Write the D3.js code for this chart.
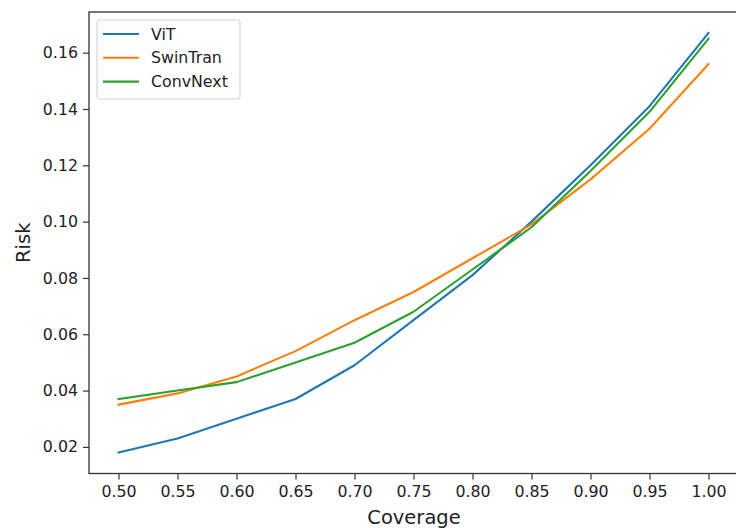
<!DOCTYPE html>
<html>
<head>
<meta charset="utf-8">
<script src="https://cdn.jsdelivr.net/npm/d3@7"></script>
<style>
  body { margin: 0; background: #fff; }
  text { font-family: "DejaVu Sans", sans-serif; fill: #222; }
</style>
</head>
<body>
<div id="chart-area"></div>
<script>
// risk vs coverage

var coverage = [0.50, 0.55, 0.60, 0.65, 0.70, 0.75, 0.80, 0.85, 0.90, 0.95, 1.00];
var vit      = [0.018, 0.023, 0.030, 0.037, 0.049, 0.065, 0.081, 0.100, 0.120, 0.141, 0.167];
var swinTran = [0.035, 0.039, 0.045, 0.054, 0.065, 0.075, 0.087, 0.099, 0.115, 0.133, 0.156];
var convNext = [0.037, 0.040, 0.043, 0.050, 0.057, 0.068, 0.083, 0.098, 0.118, 0.139, 0.165];

var seriesNames = ['ViT', 'SwinTran', 'ConvNext'];
var seriesColors = ['#1f77b4', '#ff7f0e', '#2ca02c'];
var xTicks = [0.50, 0.55, 0.60, 0.65, 0.70, 0.75, 0.80, 0.85, 0.90, 0.95, 1.00];
var yTicks = [0.02, 0.04, 0.06, 0.08, 0.10, 0.12, 0.14, 0.16];

var svgWidth = 736;
var svgHeight = 528;
var margin = {left: 89, top: 12, right: -2, bottom: 54.5};
var width = svgWidth - margin.left - margin.right;
var height = svgHeight - margin.top - margin.bottom;

var svg = d3.select('#chart-area')
            .append('svg')
            .attr('width', svgWidth)
            .attr('height', svgHeight);

var g = svg.append('g')
           .attr('transform', 'translate(' + margin.left + ',' + margin.top + ')');

var series = [vit, swinTran, convNext];

// matplotlib-style 5% margins
var xPad = (d3.max(coverage) - d3.min(coverage)) * 0.05;
var yMin = d3.min(series, function(s) { return d3.min(s); });
var yMax = d3.max(series, function(s) { return d3.max(s); });
var yPad = (yMax - yMin) * 0.05;

var xScale = d3.scaleLinear()
               .domain([d3.min(coverage) - xPad, d3.max(coverage) + xPad])
               .range([0, width]);

var yScale = d3.scaleLinear()
               .domain([yMin - yPad, yMax + yPad])
               .range([height, 0]);

var xAxis = d3.axisBottom(xScale)
              .tickValues(xTicks)
              .tickSize(6)
              .tickPadding(6)
              .tickFormat(d3.format('.2f'));

var yAxis = d3.axisLeft(yScale)
              .tickValues(yTicks)
              .tickSize(6)
              .tickPadding(5)
              .tickFormat(d3.format('.2f'));

var gx = g.append('g')
 .attr('transform', 'translate(0,' + height + ')')
 .call(xAxis);

var gy = g.append('g')
 .call(yAxis);

[gx, gy].forEach(function(a) {
  a.select('.domain').remove();
  a.selectAll('.tick line').attr('stroke', '#333').attr('stroke-width', 1.2);
  a.selectAll('.tick text')
   .attr('font-family', '"DejaVu Sans", sans-serif')
   .attr('font-size', '15.8px')
   .attr('fill', '#222');
});

// spines
g.append('rect')
 .attr('x', 0)
 .attr('y', 0)
 .attr('width', width)
 .attr('height', height)
 .attr('fill', 'none')
 .attr('stroke', '#333')
 .attr('stroke-width', 1.3);

var line = d3.line()
             .x(function(d, i) { return xScale(coverage[i]); })
             .y(function(d) { return yScale(d); });

series.forEach(function(s, i) {
  g.append('path')
   .datum(s)
   .attr('d', line)
   .attr('fill', 'none')
   .attr('stroke', seriesColors[i])
   .attr('stroke-width', 2.1)
   .attr('stroke-linejoin', 'round')
   .attr('stroke-linecap', 'square');
});

// labels
svg.append('text')
 .attr('x', 414)
 .attr('y', 524)
 .attr('text-anchor', 'middle')
 .attr('font-size', '19.5px')
 .text('Coverage');

svg.append('text')
 .attr('transform', 'translate(30,' + (margin.top + height / 2) + ') rotate(-90)')
 .attr('text-anchor', 'middle')
 .attr('font-size', '19.5px')
 .text('Risk');

// legend
var legend = svg.append('g').attr('transform', 'translate(97,20)');

legend.append('rect')
 .attr('width', 143)
 .attr('height', 79)
 .attr('rx', 3)
 .attr('fill', 'white')
 .attr('fill-opacity', 0.8)
 .attr('stroke', '#d6d6d6')
 .attr('stroke-width', 1.2);

seriesNames.forEach(function(name, i) {
  var yy = 14 + i * 23.8;
  legend.append('line')
   .attr('x1', 6)
   .attr('x2', 42)
   .attr('y1', yy)
   .attr('y2', yy)
   .attr('stroke', seriesColors[i])
   .attr('stroke-width', 2.1);
  legend.append('text')
   .attr('x', 54)
   .attr('y', yy + 5.5)
   .attr('font-size', '15.8px')
   .text(name);
});
</script>
</body>
</html>
